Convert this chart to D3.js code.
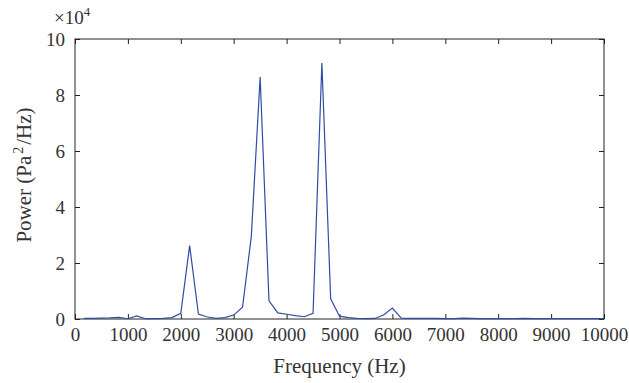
<!DOCTYPE html>
<html>
<head>
<meta charset="utf-8">
<script src="https://cdn.jsdelivr.net/npm/d3@7"></script>
<style>
  body { margin: 0; background: #fff; }
  text { font-family: "Liberation Serif", "Times New Roman", serif; fill: #333; }
</style>
</head>
<body>
<div id="container"></div>
<script>
/* DATA */
// frequency bins (Hz)
const freqs = [167, 333, 500, 667, 833, 1000, 1167, 1333, 1500, 1667,
  1833, 2000, 2167, 2333, 2500, 2667, 2833, 3000, 3167, 3333,
  3500, 3667, 3833, 4000, 4167, 4333, 4500, 4667, 4833, 5000,
  5167, 5333, 5500, 5667, 5833, 6000, 6167, 6333, 6500, 6667,
  6833, 7000, 7167, 7333, 7500, 7667, 7833, 8000, 8167, 8333,
  8500, 8667, 8833, 9000, 9167, 9333, 9500, 9667, 9833, 10000];
// power, in units of 10^4 Pa^2/Hz
const power = [0.02, 0.02, 0.03, 0.04, 0.06, 0.01, 0.11, 0.01, 0.01, 0.02,
  0.05, 0.2, 2.62, 0.18, 0.07, 0.02, 0.05, 0.14, 0.42, 2.95,
  8.64, 0.65, 0.22, 0.17, 0.12, 0.08, 0.2, 9.14, 0.72, 0.1,
  0.05, 0.02, 0.01, 0.02, 0.14, 0.39, 0.03, 0.02, 0.02, 0.02,
  0.02, 0.01, 0.01, 0.03, 0.02, 0.01, 0.01, 0.01, 0.01, 0.01,
  0.02, 0.01, 0.01, 0.01, 0.01, 0.01, 0.01, 0.01, 0.01, 0.01];
const xTicks = [0, 1000, 2000, 3000, 4000, 5000, 6000, 7000, 8000, 9000, 10000];
const yTicks = [0, 2, 4, 6, 8, 10];

const data = freqs.map((f, i) => ({ f: f, p: power[i] }));

/* CONSTANTS */
const width = 629, height = 383,
  margin = { top: 39, right: 25, bottom: 64, left: 75 };

const svg = d3.select("#container")
  .append("svg")
  .attr("width", width)
  .attr("height", height);

// SCALES
const xScale = d3.scaleLinear()
  .domain([0, 10000])
  .range([margin.left, width - margin.right]);

const yScale = d3.scaleLinear()
  .domain([0, 10])
  .range([height - margin.bottom, margin.top]);

// AXES (ticks pointing inward, mirrored on top/right)
const axisColor = "#222";
const tickLen = 5;

function styleAxis(g) {
  g.select(".domain").remove();
  g.selectAll(".tick line").attr("stroke", axisColor);
  g.selectAll(".tick text")
    .attr("font-size", 19)
    .attr("font-family", "Liberation Serif")
    .attr("fill", "#333");
}

svg.append("g")
  .attr("transform", `translate(0, ${height - margin.bottom})`)
  .call(d3.axisBottom(xScale).tickValues(xTicks).tickSizeInner(-tickLen).tickPadding(9).tickFormat(d3.format("d")))
  .call(styleAxis);

svg.append("g")
  .attr("transform", `translate(0, ${margin.top})`)
  .call(d3.axisTop(xScale).tickValues(xTicks).tickSizeInner(-tickLen).tickFormat(""))
  .call(styleAxis);

svg.append("g")
  .attr("transform", `translate(${margin.left}, 0)`)
  .call(d3.axisLeft(yScale).tickValues(yTicks).tickSizeInner(-tickLen).tickPadding(10))
  .call(styleAxis);

svg.append("g")
  .attr("transform", `translate(${width - margin.right}, 0)`)
  .call(d3.axisRight(yScale).tickValues(yTicks).tickSizeInner(-tickLen).tickFormat(""))
  .call(styleAxis);

// frame
svg.append("rect")
  .attr("x", margin.left)
  .attr("y", margin.top)
  .attr("width", width - margin.left - margin.right)
  .attr("height", height - margin.top - margin.bottom)
  .attr("fill", "none")
  .attr("stroke", axisColor)
  .attr("stroke-width", 1);

// LINE
const line = d3.line()
  .x(d => xScale(d.f))
  .y(d => yScale(d.p));

svg.append("path")
  .datum(data)
  .attr("fill", "none")
  .attr("stroke", "#2f4ca3")
  .attr("stroke-width", 1.2)
  .attr("d", line);

// LABELS
svg.append("text")
  .attr("x", (margin.left + width - margin.right) / 2)
  .attr("y", 373)
  .attr("text-anchor", "middle")
  .attr("font-size", 21)
  .text("Frequency (Hz)");

const yLab = svg.append("text")
  .attr("transform", "translate(31, 175) rotate(-90)")
  .attr("text-anchor", "middle")
  .attr("font-size", 21);
yLab.append("tspan").text("Power (Pa");
yLab.append("tspan").attr("dy", -8).attr("dx", 2).attr("font-size", 14).text("2");
yLab.append("tspan").attr("dy", 8).attr("dx", 2).text("/Hz)");

const mult = svg.append("text")
  .attr("x", 54)
  .attr("y", 24)
  .attr("font-size", 19);
mult.append("tspan").text("×10");
mult.append("tspan").attr("dy", -8).attr("font-size", 13).text("4");
</script>
</body>
</html>
